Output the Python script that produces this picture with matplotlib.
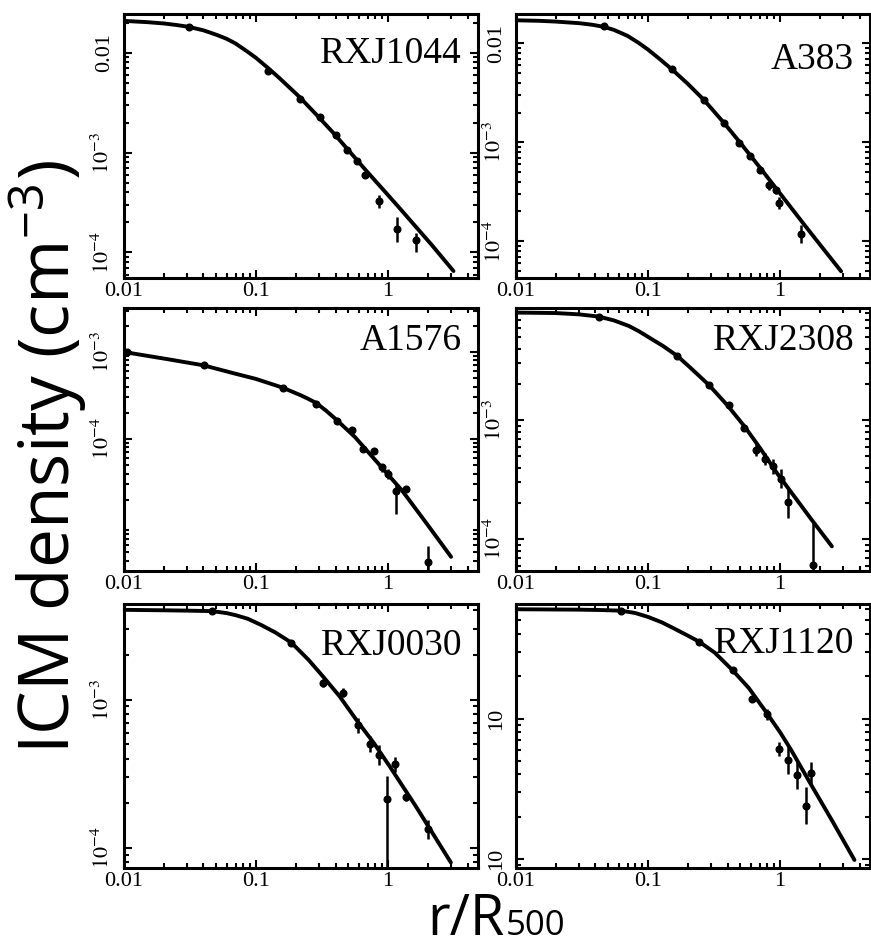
import numpy as np
import matplotlib
matplotlib.use("Agg")
import matplotlib.pyplot as plt
from matplotlib.ticker import LogLocator, NullFormatter

plt.rcParams['font.family'] = ['Liberation Serif', 'DejaVu Serif']
plt.rcParams['mathtext.fontset'] = 'stix'

# RXJ1044
r_1044 = [0.031, 0.124, 0.214, 0.303, 0.40, 0.489, 0.58, 0.668, 0.855, 1.175, 1.63]
n_1044 = [0.0183, 0.00665, 0.00347, 0.00227, 0.00151, 0.00107, 0.00083, 0.000593, 0.000326, 0.000172, 0.000133]
lo_1044 = [0.0177, 0.0064, 0.00334, 0.00218, 0.00144, 0.00102, 0.00078, 0.000555, 0.000278, 0.000126, 0.000102]
hi_1044 = [0.0189, 0.0069, 0.0036, 0.00236, 0.00158, 0.00112, 0.00088, 0.000633, 0.00038, 0.000224, 0.000158]
rfit_1044 = [0.01, 0.015, 0.02, 0.025, 0.031, 0.04, 0.0506, 0.06, 0.070, 0.085, 0.1, 0.124, 0.15,
             0.214, 0.3, 0.381, 0.5, 0.679, 1.0, 1.21, 2.15, 3.13]
nfit_1044 = [0.0209, 0.0203, 0.0197, 0.0190, 0.0182, 0.0168, 0.0151, 0.0138, 0.0124, 0.0104, 0.0089, 0.0070, 0.0056,
             0.0036, 0.00225, 0.0016, 0.00106, 0.000665, 0.000375, 0.000282, 0.000118, 6.5e-5]

# A383
r_383 = [0.046, 0.152, 0.266, 0.376, 0.487, 0.596, 0.708, 0.818, 0.933, 0.99, 1.43]
n_383 = [0.0150, 0.00545, 0.00267, 0.00155, 0.000985, 0.000721, 0.000528, 0.000366, 0.000327, 0.000245, 0.000119]
lo_383 = [0.0145, 0.00527, 0.00258, 0.0015, 0.000952, 0.000697, 0.000505, 0.000326, 0.0003, 0.000213, 9.6e-5]
hi_383 = [0.0155, 0.00563, 0.00276, 0.0016, 0.00102, 0.000746, 0.000552, 0.000411, 0.000356, 0.000282, 0.000147]
rfit_383 = [0.01, 0.015, 0.02, 0.03, 0.038, 0.046, 0.055, 0.07, 0.085, 0.1, 0.12, 0.152, 0.2, 0.266,
            0.376, 0.501, 0.708, 1.0, 1.496, 1.995, 2.90]
nfit_383 = [0.0171, 0.0169, 0.0166, 0.0160, 0.0154, 0.0147, 0.0137, 0.0119, 0.0101, 0.00865, 0.0071, 0.00545, 0.0039, 0.00267,
            0.00157, 0.000984, 0.00055, 0.000304, 0.000152, 9.33e-5, 4.97e-5]

# A1576
r_1576 = [0.0105, 0.0403, 0.160, 0.286, 0.407, 0.530, 0.651, 0.777, 0.90, 1.0, 1.14, 1.36, 2.01]
n_1576 = [1.0e-3, 7.03e-4, 3.88e-4, 2.54e-4, 1.60e-4, 1.27e-4, 7.7e-5, 7.2e-5, 4.7e-5, 4.0e-5, 2.54e-5, 2.65e-5, 3.8e-6]
lo_1576 = [9.6e-4, 6.8e-4, 3.75e-4, 2.45e-4, 1.52e-4, 1.21e-4, 7.2e-5, 6.8e-5, 4.2e-5, 3.5e-5, 1.37e-5, 2.45e-5, 3.1e-6]
hi_1576 = [1.04e-3, 7.25e-4, 4.0e-4, 2.63e-4, 1.68e-4, 1.33e-4, 8.2e-5, 7.6e-5, 5.2e-5, 4.5e-5, 3.09e-5, 2.85e-5, 5.9e-6]
rfit_1576 = [0.01, 0.0209, 0.040, 0.0676, 0.1, 0.16, 0.219, 0.25, 0.286, 0.34, 0.407, 0.562, 0.849, 1.28, 1.93, 3.0]
nfit_1576 = [1.0e-3, 8.32e-4, 7.03e-4, 5.7e-4, 4.9e-4, 3.88e-4, 3.17e-4, 2.88e-4, 2.59e-4, 2.11e-4, 1.66e-4,
             1.05e-4, 5.16e-5, 2.54e-5, 1.10e-5, 4.41e-6]

# RXJ2308
r_2308 = [0.0422, 0.167, 0.290, 0.414, 0.537, 0.657, 0.767, 0.891, 1.02, 1.148, 1.77]
n_2308 = [7.43e-3, 3.46e-3, 1.97e-3, 1.33e-3, 8.62e-4, 5.58e-4, 4.72e-4, 4.09e-4, 3.22e-4, 2.04e-4, 6.1e-5]
lo_2308 = [7.2e-3, 3.35e-3, 1.91e-3, 1.28e-3, 8.3e-4, 4.97e-4, 4.2e-4, 3.56e-4, 2.68e-4, 1.51e-4, 1.0e-5]
hi_2308 = [7.65e-3, 3.57e-3, 2.03e-3, 1.38e-3, 8.95e-4, 6.26e-4, 5.3e-4, 4.7e-4, 3.87e-4, 2.75e-4, 1.38e-4]
rfit_2308 = [0.01, 0.02, 0.03, 0.0422, 0.055, 0.0716, 0.085, 0.107, 0.13, 0.167, 0.21, 0.29, 0.4, 0.537,
             0.7, 0.955, 1.70, 2.47]
nfit_2308 = [8.02e-3, 7.95e-3, 7.75e-3, 7.43e-3, 6.9e-3, 6.19e-3, 5.6e-3, 4.79e-3, 4.2e-3, 3.46e-3, 2.75e-3, 1.97e-3, 1.33e-3, 8.89e-4,
             5.9e-4, 3.55e-4, 1.5e-4, 8.7e-5]

# RXJ0030
r_0030 = [0.0465, 0.185, 0.322, 0.455, 0.589, 0.729, 0.856, 0.983, 1.12, 1.37, 2.0]
n_0030 = [3.97e-3, 2.42e-3, 1.30e-3, 1.11e-3, 6.71e-4, 5.04e-4, 4.21e-4, 2.14e-4, 3.66e-4, 2.20e-4, 1.34e-4]
lo_0030 = [3.8e-3, 2.35e-3, 1.22e-3, 1.04e-3, 6.0e-4, 4.45e-4, 3.6e-4, 1.0e-5, 3.25e-4, 2.06e-4, 1.16e-4]
hi_0030 = [4.15e-3, 2.5e-3, 1.38e-3, 1.19e-3, 7.5e-4, 5.7e-4, 4.95e-4, 3.08e-4, 4.1e-4, 2.35e-4, 1.55e-4]
rfit_0030 = [0.01, 0.0205, 0.03, 0.0465, 0.06, 0.07, 0.0866, 0.11, 0.14, 0.185, 0.25, 0.326, 0.43, 0.579,
             0.78, 1.029, 1.63, 2.99]
nfit_0030 = [4.02e-3, 3.99e-3, 3.97e-3, 3.94e-3, 3.82e-3, 3.7e-3, 3.5e-3, 3.17e-3, 2.83e-3, 2.42e-3, 1.85e-3, 1.41e-3, 1.05e-3, 7.24e-4,
             5.1e-4, 3.55e-4, 1.9e-4, 8.0e-5]

# RXJ1120
r_1120 = [0.0625, 0.244, 0.437, 0.618, 0.80, 0.98, 1.148, 1.35, 1.58, 1.73]
n_1120 = [5.87e-3, 3.53e-3, 2.21e-3, 1.39e-3, 1.07e-3, 6.1e-4, 5.04e-4, 3.98e-4, 2.40e-4, 4.09e-4]
lo_1120 = [5.7e-3, 3.43e-3, 2.14e-3, 1.34e-3, 9.8e-4, 5.45e-4, 4.0e-4, 3.16e-4, 1.78e-4, 3.4e-4]
hi_1120 = [6.05e-3, 3.63e-3, 2.28e-3, 1.44e-3, 1.17e-3, 6.85e-4, 6.35e-4, 5.0e-4, 3.25e-4, 4.9e-4]
rfit_1120 = [0.01, 0.0298, 0.045, 0.0625, 0.08, 0.1, 0.127, 0.16, 0.2, 0.244, 0.32, 0.437, 0.58, 0.766,
             1.0, 1.218, 1.726, 2.5, 3.66]
nfit_1120 = [6.01e-3, 5.97e-3, 5.93e-3, 5.87e-3, 5.65e-3, 5.3e-3, 4.85e-3, 4.35e-3, 3.9e-3, 3.53e-3, 2.95e-3, 2.21e-3, 1.65e-3, 1.148e-3,
             8.0e-4, 5.94e-4, 3.36e-4, 1.85e-4, 9.84e-5]

# Achsen
x_ticks = [0.01, 0.1, 1]
x_ticklabels = ['0.01', '0.1', '1']
y_ticks_a = [1e-2, 1e-3, 1e-4]
y_labels_a = ['0.01', r'$10^{-3}$', r'$10^{-4}$']
y_ticks_b = [1e-3, 1e-4]
y_labels_b = [r'$10^{-3}$', r'$10^{-4}$']
y_labels_c = ['10', '10']

panels = [
    ('RXJ1044', r_1044, n_1044, lo_1044, hi_1044, rfit_1044, nfit_1044, (5.6e-5, 0.0245), y_ticks_a, y_labels_a),
    ('A383', r_383, n_383, lo_383, hi_383, rfit_383, nfit_383, (4.3e-5, 0.0198), y_ticks_a, y_labels_a),
    ('A1576', r_1576, n_1576, lo_1576, hi_1576, rfit_1576, nfit_1576, (3.03e-6, 3.25e-3), y_ticks_b, y_labels_b),
    ('RXJ2308', r_2308, n_2308, lo_2308, hi_2308, rfit_2308, nfit_2308, (5.4e-5, 8.85e-3), y_ticks_b, y_labels_b),
    ('RXJ0030', r_0030, n_0030, lo_0030, hi_0030, rfit_0030, nfit_0030, (7.4e-5, 4.4e-3), y_ticks_b, y_labels_b),
    ('RXJ1120', r_1120, n_1120, lo_1120, hi_1120, rfit_1120, nfit_1120, (8.7e-5, 6.55e-3), y_ticks_b, y_labels_c),
]

# Position der Panels (Pixel, von oben) und der Namen
col_left = [124, 516]
col_width = 354
row_top = [14, 307.5, 604]
row_height = 263.5
name_y = [0.815, 0.79, 0.84, 0.84, 0.807, 0.814]

W, H = 871, 950
fig = plt.figure(figsize=(W / 100, H / 100), dpi=100)

for i, (name, r, n, lo, hi, rfit, nfit, ylim, yt, yl) in enumerate(panels):
    row, col = divmod(i, 2)
    ax = fig.add_axes([col_left[col] / W, 1 - (row_top[row] + row_height) / H,
                       col_width / W, row_height / H])
    ax.set_xscale('log')
    ax.set_yscale('log')

    # Modellkurve
    ax.plot(rfit, nfit, color='black', lw=2.8, solid_capstyle='round',
            solid_joinstyle='round')

    # Messpunkte mit Fehlerbalken
    n = np.array(n)
    yerr = [n - np.array(lo), np.array(hi) - n]
    ax.errorbar(r, n, yerr=yerr, fmt='o', color='black', ms=4.8,
                elinewidth=1.8, capsize=0)

    ax.set_xlim(0.01, 4.8)
    ax.set_ylim(*ylim)

    ax.set_xticks(x_ticks)
    ax.set_xticklabels(x_ticklabels)
    ax.set_yticks(yt)
    ax.set_yticklabels(yl, rotation=90, va='center')
    ax.xaxis.set_minor_locator(LogLocator(base=10, subs=np.arange(2, 10), numticks=20))
    ax.yaxis.set_minor_locator(LogLocator(base=10, subs=np.arange(2, 10), numticks=20))
    ax.xaxis.set_minor_formatter(NullFormatter())
    ax.yaxis.set_minor_formatter(NullFormatter())

    ax.tick_params(which='both', direction='in', top=True, right=True,
                   width=1.5, labelsize=16)
    ax.tick_params(which='major', length=6)
    ax.tick_params(which='minor', length=3.5)
    ax.tick_params(axis='x', pad=3)
    ax.tick_params(axis='y', pad=7)
    for sp in ax.spines.values():
        sp.set_linewidth(2.2)

    ax.text(0.955, name_y[i], name, transform=ax.transAxes, ha='right',
            va='baseline', fontsize=27)

# große Achsenbeschriftungen
fig.text(48 / W, 1 - 457 / H, r'ICM density (cm$^{\mathregular{-3}}$)',
         rotation=90, ha='center', va='center', family='Open Sans', fontsize=50)

t1 = fig.text(427 / W, 15 / H, 'r/R', ha='left', va='baseline',
              family='Open Sans', fontsize=40)
fig.canvas.draw()
bb = t1.get_window_extent(fig.canvas.get_renderer())
fig.text(bb.x1 / W + 0.002, 15 / H, '500', ha='left', va='baseline',
         family='Open Sans', fontsize=25)

fig.savefig('out.png', dpi=100)
